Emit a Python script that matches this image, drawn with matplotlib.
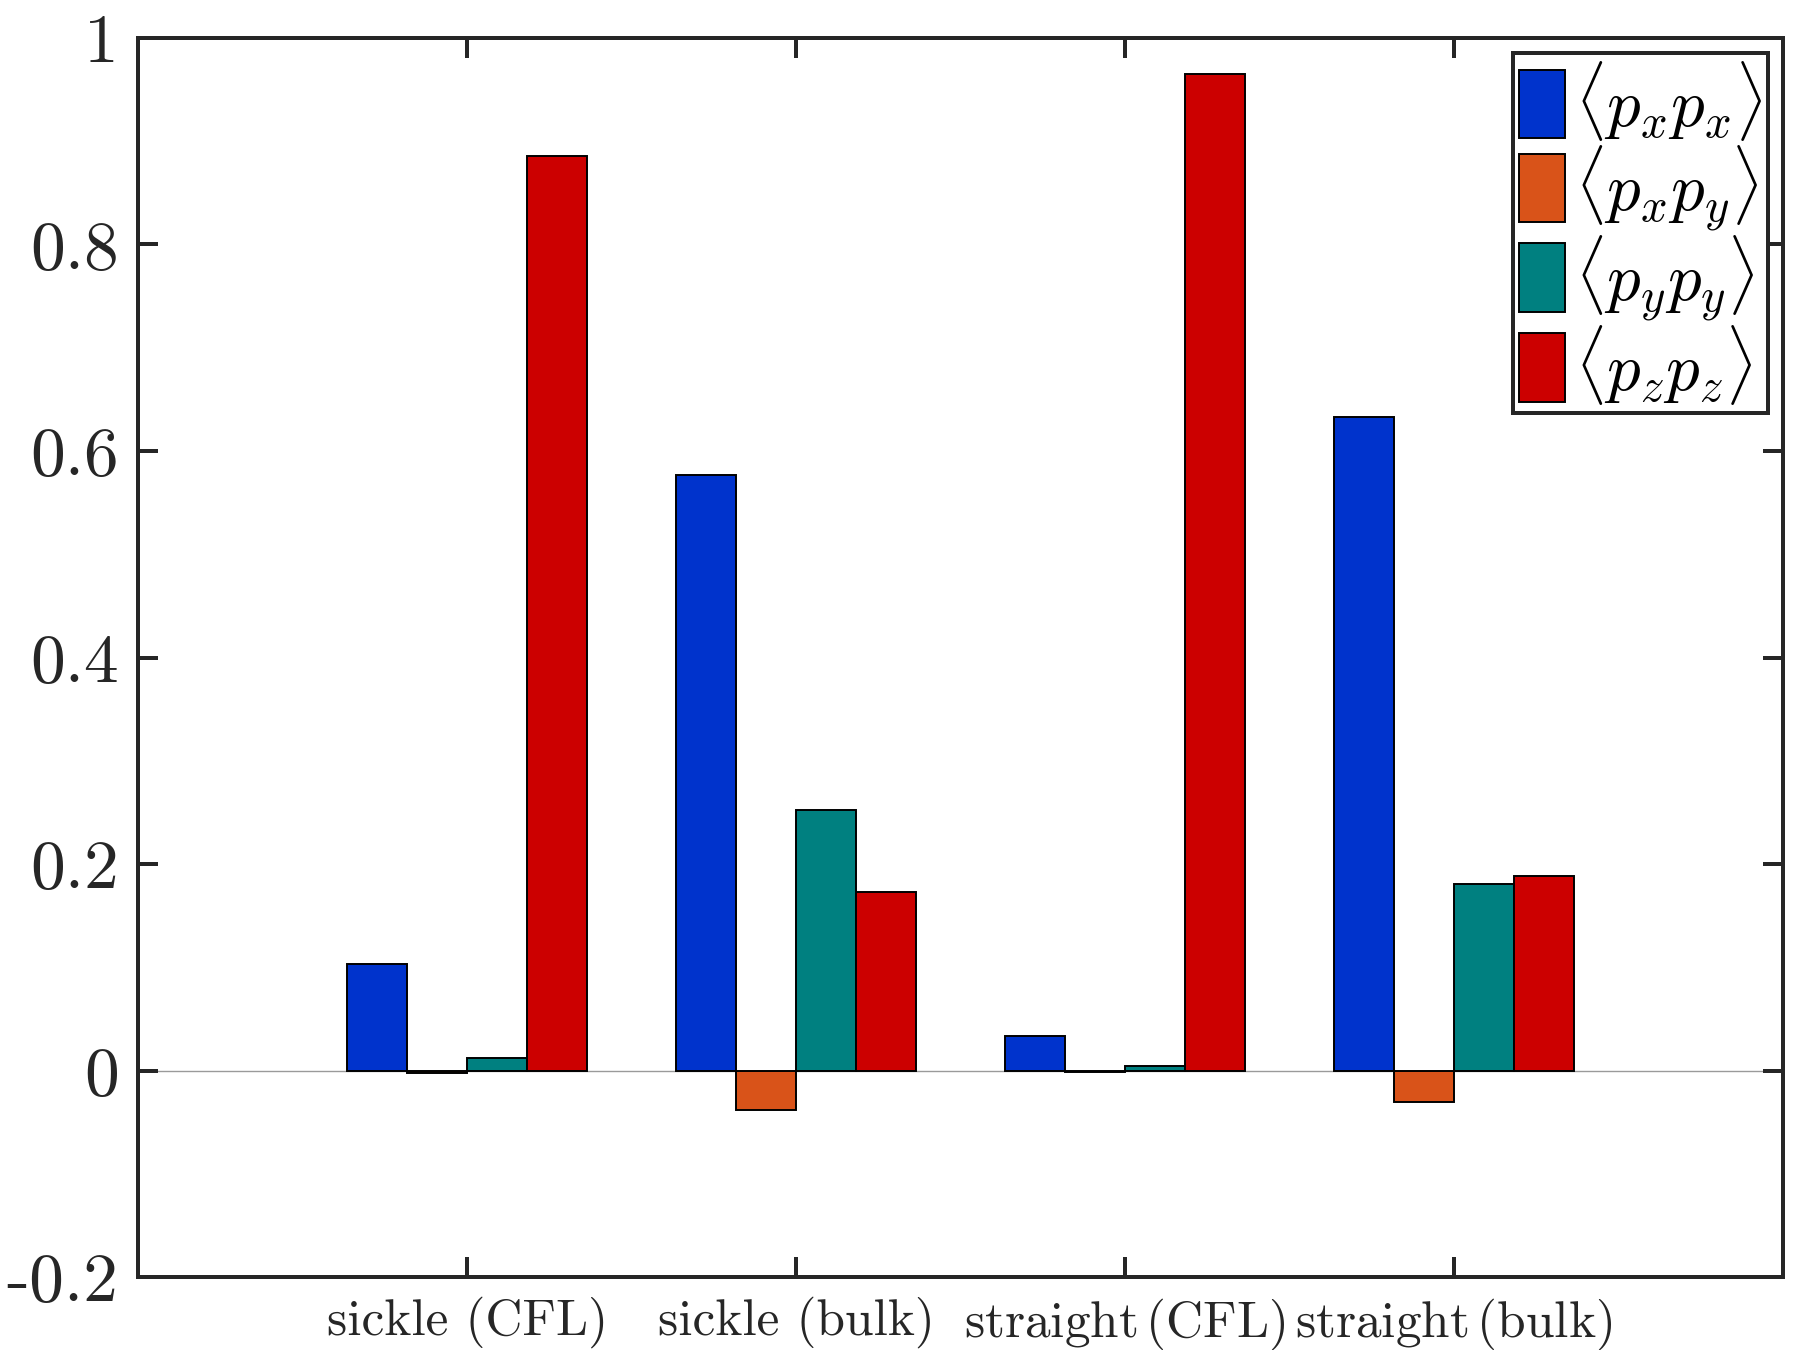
import numpy as np
import matplotlib
matplotlib.use('Agg')
from matplotlib import pyplot as plt

categories = ["sickle (CFL)", "sickle (bulk)", "straight (CFL)", "straight (bulk)"]
series_labels = [r'$\langle p_x p_x \rangle$', r'$\langle p_x p_y \rangle$',
                 r'$\langle p_y p_y \rangle$', r'$\langle p_z p_z \rangle$']
pxpx = [0.103, 0.577, 0.033, 0.633]
pxpy = [-0.002, -0.038, -0.001, -0.030]
pypy = [0.012, 0.252, 0.004, 0.181]
pzpz = [0.886, 0.173, 0.965, 0.188]
colors = ['#0033CC', '#D95319', '#008080', '#CC0000']

yticks = [-0.2, 0, 0.2, 0.4, 0.6, 0.8, 1]
ytick_labels = ['-0.2', '0', '0.2', '0.4', '0.6', '0.8', '1']

plt.rcParams['mathtext.fontset'] = 'cm'
plt.rcParams['font.family'] = 'cmr10'
plt.rcParams['axes.formatter.use_mathtext'] = True

axis_color = '#262626'


def tick_text(name):
    # "straight" labels are set with a thinner gap, like the original
    if name.startswith('straight'):
        return r'$\mathrm{' + name.replace(' ', r'\,') + '}$'
    return name


fig = plt.figure(figsize=(9, 6.75), dpi=200)
ax = fig.add_axes([0.0767, 0.054, 0.9139, 0.9179])

x = np.arange(1, len(categories) + 1)
series = [pxpx, pxpy, pypy, pzpz]
group_width = 4 / (4 + 1.5)
bar_w = group_width / len(series)

# baseline behind the bars
ax.axhline(0, color='#9a9a9a', lw=0.5, zorder=1)

for i, (vals, col, lab) in enumerate(zip(series, colors, series_labels)):
    offset = (i - (len(series) - 1) / 2) * bar_w
    ax.bar(x + offset, vals, width=bar_w, color=col, edgecolor='black',
           linewidth=0.7, label=lab, zorder=2)

ax.set_xlim(0, 5)
ax.set_ylim(-0.2, 1)
ax.set_xticks(x)
ax.set_xticklabels([tick_text(c) for c in categories], fontsize=18.5)
ax.set_yticks(yticks)
ax.set_yticklabels(ytick_labels, fontsize=25)

for sp in ax.spines.values():
    sp.set_linewidth(1.44)
    sp.set_color(axis_color)
ax.tick_params(direction='in', length=7.2, width=1.44, colors=axis_color,
               top=True, right=True)
ax.tick_params(axis='x', pad=7)
ax.tick_params(axis='y', pad=7)

leg = ax.legend(loc='upper right', fontsize=24, handlelength=0.68,
                handleheight=1.2, handletextpad=0.15, labelspacing=0.0,
                borderaxespad=0.22, borderpad=0.1, fancybox=False,
                framealpha=1)
leg.get_frame().set_edgecolor(axis_color)
leg.get_frame().set_linewidth(1.44)

fig.savefig('out.png', dpi=200)
plt.close(fig)
